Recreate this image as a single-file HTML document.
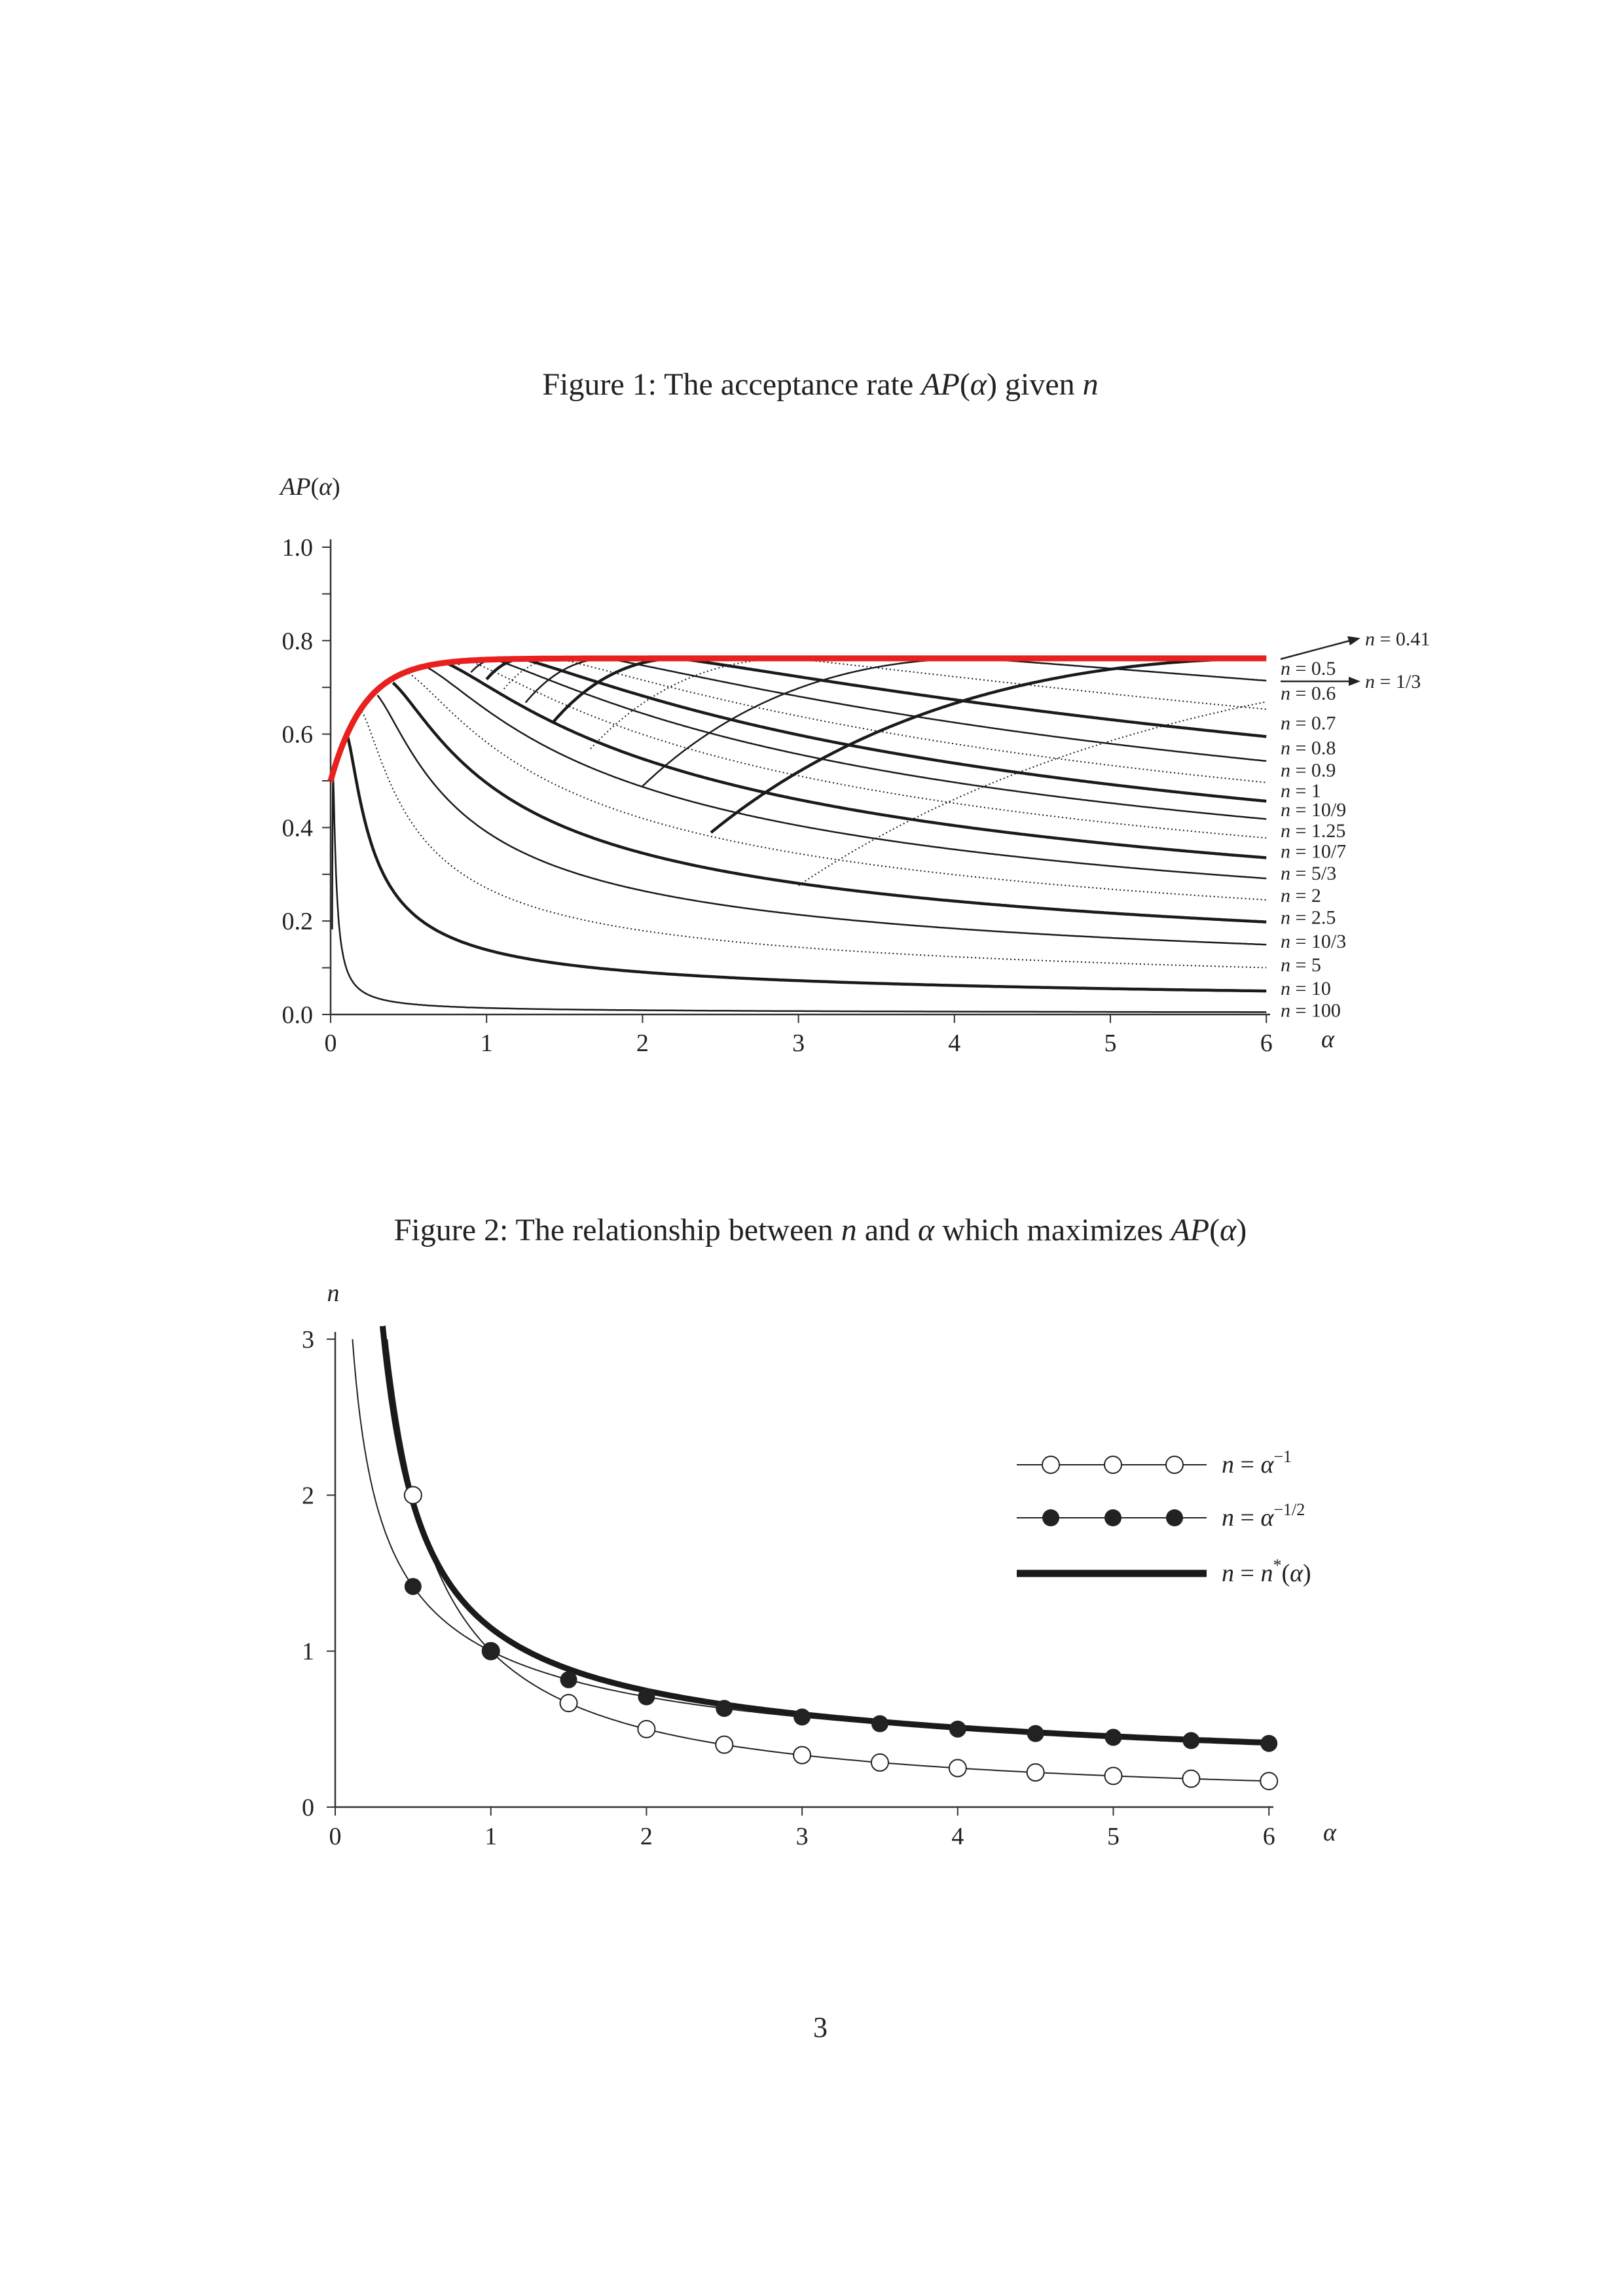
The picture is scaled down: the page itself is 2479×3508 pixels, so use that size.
<!DOCTYPE html>
<html><head><meta charset="utf-8"><style>
body{margin:0;background:#fff}
svg{display:block}
text{font-family:"Liberation Serif",serif;fill:#222}
</style></head><body>
<svg id="s" width="2479" height="3508" viewBox="0 0 2479 3508" xmlns="http://www.w3.org/2000/svg">
<text x="1253" y="603" font-size="48" text-anchor="middle">Figure 1: The acceptance rate <tspan font-style="italic">AP</tspan>(<tspan font-style="italic">α</tspan>) given <tspan font-style="italic">n</tspan></text>
<text x="1253" y="1895" font-size="48" text-anchor="middle">Figure 2: The relationship between <tspan font-style="italic">n</tspan> and <tspan font-style="italic">α</tspan> which maximizes <tspan font-style="italic">AP</tspan>(<tspan font-style="italic">α</tspan>)</text>
<text x="1253" y="3112" font-size="44" text-anchor="middle">3</text>
<g id="f1"></g><g id="f2"></g>
</svg>
<script>
var NS="http://www.w3.org/2000/svg";
function el(p,t,a,txt){var e=document.createElementNS(NS,t);for(var k in a)e.setAttribute(k,a[k]);if(txt!=null)e.innerHTML=txt;p.appendChild(e);return e;}
var f1=document.getElementById('f1'),f2=document.getElementById('f2');
// Figure 1
function X1(a){return 505+a*238.2}function Y1(v){return 1550-v*714}
function nstar(a){return Math.sqrt(1/a+0.32*Math.pow(a,-2.5))}
function E(a){return 0.762-0.262*Math.exp(-a/0.22)}
function h(x){if(x<1)return Math.max(0,1-3.3*(1-x)*(1-x));return 1.6/(x+0.6/x)}
function AP(a,n){return E(a)*h(n/nstar(a))}
el(f1,'line',{x1:505,y1:1550,x2:505,y2:824,stroke:'#333','stroke-width':2.5});
el(f1,'line',{x1:505,y1:1550,x2:1940,y2:1550,stroke:'#333','stroke-width':2.5});
for(var i=0;i<=10;i++){var y=Y1(i/10);el(f1,'line',{x1:492,y1:y,x2:505,y2:y,stroke:'#333','stroke-width':2});
 if(i%2==0)el(f1,'text',{x:478,y:y+13,'font-size':38,'text-anchor':'end'},(i/10).toFixed(1));}
for(var i=0;i<=6;i++){var x=X1(i);el(f1,'line',{x1:x,y1:1550,x2:x,y2:1563,stroke:'#333','stroke-width':2});
 el(f1,'text',{x:x,y:1606,'font-size':38,'text-anchor':'middle'},i);}
el(f1,'text',{x:2028,y:1600,'font-size':38,'font-style':'italic','text-anchor':'middle'},'α');
el(f1,'text',{x:428,y:756,'font-size':38},'<tspan font-style="italic">AP</tspan>(<tspan font-style="italic">α</tspan>)');
var curves=[[0.41,'k'],[1/3,'d'],[0.5,'t'],[0.6,'d'],[0.7,'k'],[0.8,'t'],[0.9,'d'],[1,'k'],[10/9,'t'],[1.25,'d'],[10/7,'k'],[5/3,'t'],[2,'d'],[2.5,'k'],[10/3,'t'],[5,'d'],[10,'k'],[100,'t']];
curves.forEach(function(c){var n=c[0],s=c[1],a0=Math.min(1/n,6),d='';
 for(var k=0;k<=400;k++){var a=a0+(6-a0)*Math.pow(k/400,n>=10?2.5:1);var v=AP(a,n);d+=(k?'L':'M')+X1(a).toFixed(1)+','+Y1(v).toFixed(1);}
 var st={fill:'none',stroke:'#1a1a1a'};
 if(s=='k')st['stroke-width']=4.5;else if(s=='t')st['stroke-width']=2.5;else{st['stroke-width']=2;st['stroke-dasharray']='2,4';}
 st.d=d;el(f1,'path',st);});
var d='';for(var k=0;k<=300;k++){var a=6*Math.pow(k/300,2);d+=(k?'L':'M')+X1(a).toFixed(1)+','+Y1(E(a)).toFixed(1);}
el(f1,'path',{d:d,fill:'none',stroke:'#e8201e','stroke-width':9});
var labs=[['0.5',453],['0.6',470],['0.7',490],['0.8',507],['0.9',522],['1',536],['10/9',549],['1.25',563],['10/7',577],['5/3',592],['2',607],['2.5',622],['10/3',638],['5',654],['10',670],['100',685]];
labs.forEach(function(l){el(f1,'text',{x:1956,y:l[1]*2.2536+10,'font-size':30},'<tspan font-style="italic">n</tspan> = '+l[0]);});
el(f1,'text',{x:2085,y:433*2.2536+10,'font-size':30},'<tspan font-style="italic">n</tspan> = 0.41');
el(f1,'text',{x:2085,y:462*2.2536+10,'font-size':30},'<tspan font-style="italic">n</tspan> = 1/3');
el(f1,'line',{x1:1956,y1:1007,x2:2065,y2:978,stroke:'#222','stroke-width':2.5});
el(f1,'path',{d:'M2078,975 L2058,972 L2062,986 Z',fill:'#222'});
el(f1,'line',{x1:1956,y1:1041,x2:2065,y2:1041,stroke:'#222','stroke-width':2.5});
el(f1,'path',{d:'M2078,1041 L2060,1034 L2060,1048 Z',fill:'#222'});
// Figure 2
function X2(a){return 512+a*237.7}function Y2(n){return 2761-n*238.3}
el(f2,'line',{x1:512,y1:2761,x2:512,y2:2035,stroke:'#333','stroke-width':2.5});
el(f2,'line',{x1:512,y1:2761,x2:1945,y2:2761,stroke:'#333','stroke-width':2.5});
for(var i=0;i<=3;i++){var y=Y2(i);el(f2,'line',{x1:499,y1:y,x2:512,y2:y,stroke:'#333','stroke-width':2});el(f2,'text',{x:480,y:y+13,'font-size':38,'text-anchor':'end'},i);}
for(var i=0;i<=6;i++){var x=X2(i);el(f2,'line',{x1:x,y1:2761,x2:x,y2:2774,stroke:'#333','stroke-width':2});el(f2,'text',{x:x,y:2818,'font-size':38,'text-anchor':'middle'},i);}
el(f2,'text',{x:2031,y:2812,'font-size':38,'font-style':'italic','text-anchor':'middle'},'α');
el(f2,'text',{x:509,y:1988,'font-size':38,'font-style':'italic','text-anchor':'middle'},'n');
function curve(f,a0){var d='';for(var k=0;k<=300;k++){var a=a0+(6-a0)*Math.pow(k/300,2);d+=(k?'L':'M')+X2(a).toFixed(1)+','+Y2(f(a)).toFixed(1);}return d;}
el(f2,'path',{d:curve(function(a){return 1/a},1/3),fill:'none',stroke:'#222','stroke-width':2});
el(f2,'path',{d:curve(function(a){return 1/Math.sqrt(a)},1/9),fill:'none',stroke:'#222','stroke-width':2});
el(f2,'path',{d:curve(nstar,0.305),fill:'none',stroke:'#1a1a1a','stroke-width':9});
for(var k=1;k<=12;k++){var a=k/2;
 el(f2,'circle',{cx:X2(a),cy:Y2(1/a),r:13,fill:'#fff',stroke:'#222','stroke-width':2});
 el(f2,'circle',{cx:X2(a),cy:Y2(1/Math.sqrt(a)),r:13,fill:'#222'});}
el(f2,'line',{x1:1553,y1:2238,x2:1843,y2:2238,stroke:'#222','stroke-width':2});
el(f2,'line',{x1:1553,y1:2319,x2:1843,y2:2319,stroke:'#222','stroke-width':2});
el(f2,'line',{x1:1553,y1:2404,x2:1843,y2:2404,stroke:'#1a1a1a','stroke-width':11});
[1605,1700,1794].forEach(function(x){el(f2,'circle',{cx:x,cy:2238,r:13,fill:'#fff',stroke:'#222','stroke-width':2});el(f2,'circle',{cx:x,cy:2319,r:13,fill:'#222'});});
el(f2,'text',{x:1866,y:2250,'font-size':38},'<tspan font-style="italic">n</tspan> = <tspan font-style="italic">α</tspan><tspan font-size="26" dy="-16">−1</tspan>');
el(f2,'text',{x:1866,y:2331,'font-size':38},'<tspan font-style="italic">n</tspan> = <tspan font-style="italic">α</tspan><tspan font-size="26" dy="-16">−1/2</tspan>');
el(f2,'text',{x:1866,y:2416,'font-size':38},'<tspan font-style="italic">n</tspan> = <tspan font-style="italic">n</tspan><tspan font-size="26" dy="-16">*</tspan><tspan dy="16">(</tspan><tspan font-style="italic">α</tspan>)');
</script>
</body></html>
